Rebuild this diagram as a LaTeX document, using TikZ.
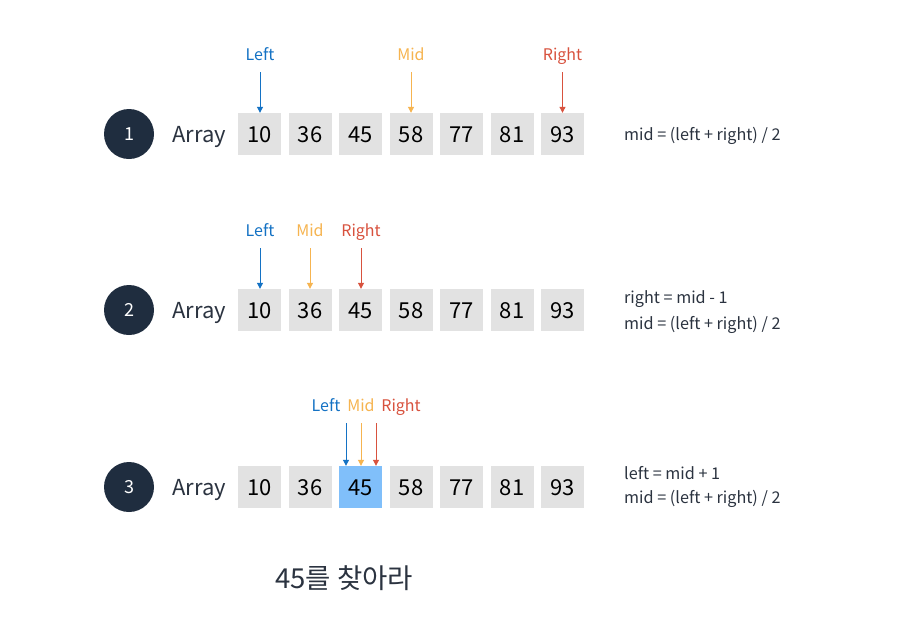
\documentclass[tikz,border=0pt]{standalone}
\usepackage{fontspec}
\setmainfont{Noto Sans CJK KR}
\usetikzlibrary{arrows.meta}
\definecolor{navy}{HTML}{1F2D3F}
\definecolor{cellgray}{HTML}{E2E2E2}
\definecolor{hiblue}{HTML}{80BFFA}
\definecolor{lblue}{HTML}{1472C4}
\definecolor{lorange}{HTML}{F6B450}
\definecolor{lred}{HTML}{D8523E}
\definecolor{txt}{HTML}{2B3340}
\tikzset{
  x=1pt,y=-1pt,
  cell/.style={fill=cellgray,minimum width=43pt,minimum height=42pt,inner sep=0pt,font=\fontsize{22}{22}\selectfont,text=black,text height=16pt,text depth=0pt},
  hcell/.style={cell,fill=hiblue},
  stepcircle/.style={circle,fill=navy,minimum size=50pt,inner sep=0pt,text=white,font=\fontsize{18}{18}\selectfont,text height=13pt,text depth=0pt},
  arrlabel/.style={font=\fontsize{22}{22}\selectfont,text=txt,text height=16pt,text depth=0pt},
  ptr/.style={font=\fontsize{16}{16}\selectfont,inner sep=0pt,anchor=base},
  ptrarrow/.style={-{Triangle[length=6pt,width=6pt]},line width=1pt},
  formula/.style={font=\fontsize{16.2}{16.2}\selectfont,text=txt,anchor=base west,inner sep=0pt}
}
\begin{document}
\begin{tikzpicture}
\useasboundingbox[fill=white] (0,0) rectangle (901,630);
\foreach \r/\yy in {1/134,2/310,3/487}{
  \node[stepcircle] (c\r) at (129,\yy) {\r};
  \node[arrlabel] (a\r) at (199,\yy) {Array};
}
\foreach \i/\v in {1/10,2/36,3/45,4/58,5/77,6/81,7/93}{
  \node[cell] (r1b\i) at ({259.5+(\i-1)*50.5},134) {\v};
  \node[cell] (r2b\i) at ({259.5+(\i-1)*50.5},310) {\v};
}
\foreach \i/\v in {1/10,2/36,4/58,5/77,6/81,7/93}{
  \node[cell] (r3b\i) at ({259.5+(\i-1)*50.5},487) {\v};
}
\node[hcell] (r3b3) at ({259.5+2*50.5},487) {45};
% row 1 pointers
\node[ptr,text=lblue] (l1) at (260,60) {Left};
\node[ptr,text=lorange] (m1) at (411,60) {Mid};
\node[ptr,text=lred] (g1) at (562.5,60) {Right};
\coordinate (l1s) at (260,72);
\coordinate (m1s) at (411,72);
\coordinate (g1s) at (562.5,72);
\draw[ptrarrow,lblue] (l1s) -- (l1s |- r1b1.north);
\draw[ptrarrow,lorange] (m1s) -- (m1s |- r1b4.north);
\draw[ptrarrow,lred] (g1s) -- (g1s |- r1b7.north);
% row 2 pointers
\node[ptr,text=lblue] (l2) at (260,236) {Left};
\node[ptr,text=lorange] (m2) at (310,236) {Mid};
\node[ptr,text=lred] (g2) at (361,236) {Right};
\coordinate (l2s) at (260,248);
\coordinate (m2s) at (310,248);
\coordinate (g2s) at (361,248);
\draw[ptrarrow,lblue] (l2s) -- (l2s |- r2b1.north);
\draw[ptrarrow,lorange] (m2s) -- (m2s |- r2b2.north);
\draw[ptrarrow,lred] (g2s) -- (g2s |- r2b3.north);
% row 3 pointers
\node[ptr,text=lblue] (l3) at (326,411) {Left};
\node[ptr,text=lorange] (m3) at (361,411) {Mid};
\node[ptr,text=lred] (g3) at (401,411) {Right};
\coordinate (t3a) at (346,423);
\coordinate (t3b) at (361,423);
\coordinate (t3c) at (376,423);
\draw[ptrarrow,lblue] (t3a) -- (t3a |- r3b3.north);
\draw[ptrarrow,lorange] (t3b) -- (t3b |- r3b3.north);
\draw[ptrarrow,lred] (t3c) -- (t3c |- r3b3.north);
% formulas
\node[formula] (f1) at (624,140) {mid = (left + right) / 2};
\node[formula] (f2a) at (624,303) {right = mid - 1};
\node[formula] (f2b) at (624,329) {mid = (left + right) / 2};
\node[formula] (f3a) at (624,479) {left = mid + 1};
\node[formula] (f3b) at (624,503) {mid = (left + right) / 2};
% caption
\node[font=\fontsize{27.5}{27.5}\selectfont,text=txt] (cap) at (344,578) {45를 찾아라};
\end{tikzpicture}
\end{document}
